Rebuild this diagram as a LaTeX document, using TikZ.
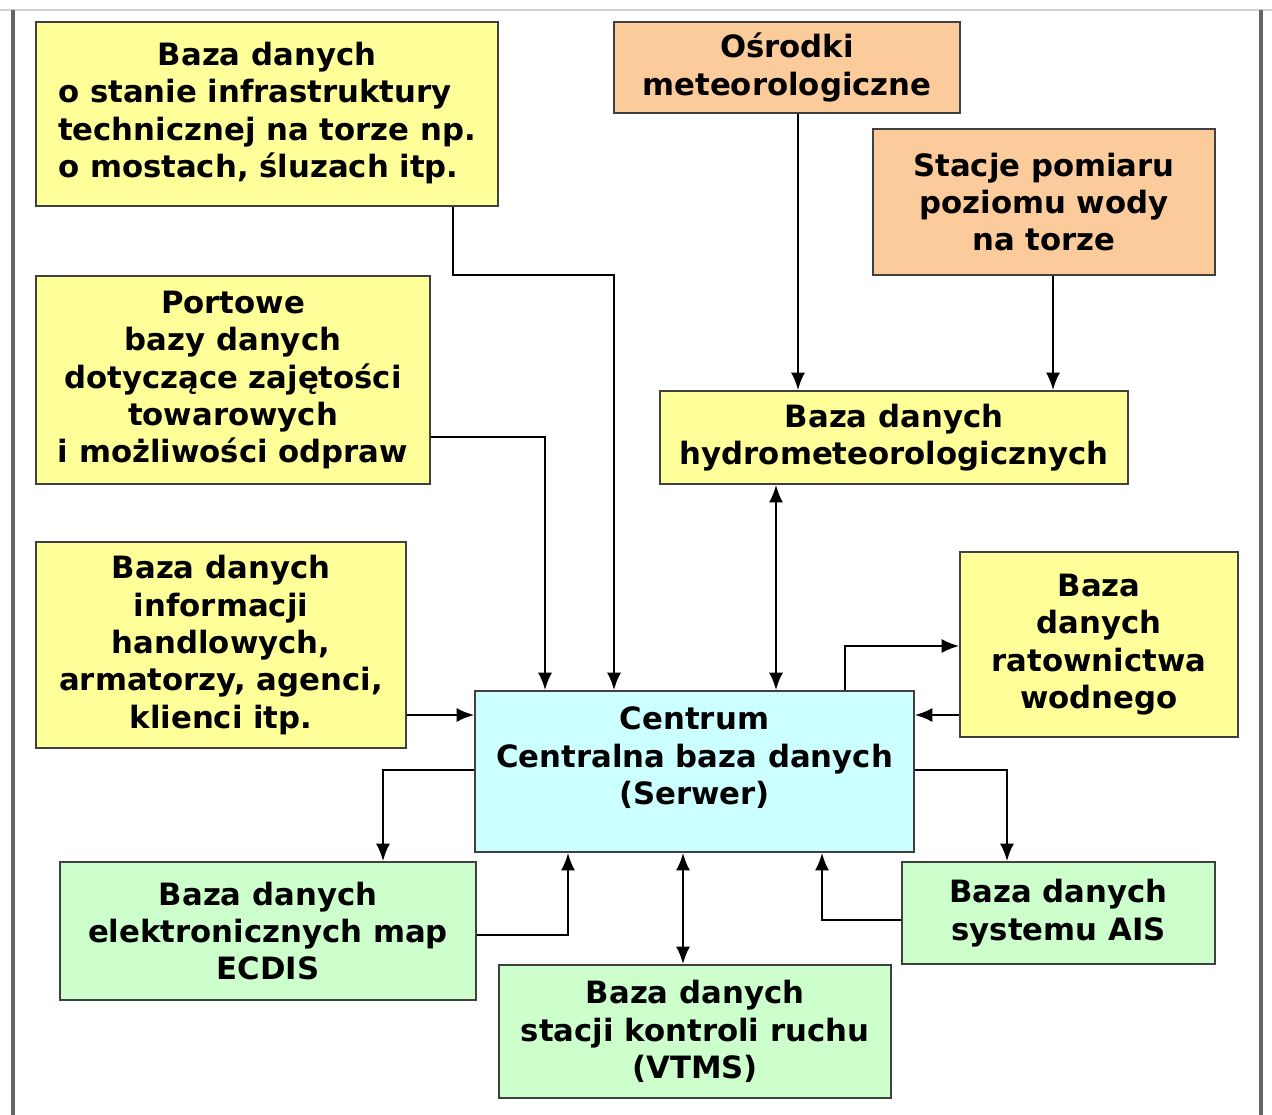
\documentclass[tikz,border=0pt]{standalone}
\usepackage{fontspec}
\setmainfont{DejaVu Sans}
\usetikzlibrary{arrows.meta}

\definecolor{zolty}{HTML}{FFFF99}
\definecolor{pomarancz}{HTML}{FCCB9B}
\definecolor{blekit}{HTML}{CCFFFF}
\definecolor{zielony}{HTML}{CCFFCC}

\begin{document}
\begin{tikzpicture}[
    x=0.02cm, y=-0.02cm,
    % Styl wspolny dla wszystkich prostokatow (baz danych)
    baza/.style={draw=black!75, line width=0.9pt, align=center, inner sep=0pt,
        font=\bfseries\fontsize{17.5}{21.3}\selectfont},
    % Strzalki laczace bloki
    strz/.style={-{Latex[length=10pt,width=8pt]}, line width=1.4pt},
    strz2/.style={{Latex[length=10pt,width=8pt]}-{Latex[length=10pt,width=8pt]}, line width=1.4pt}
]

    % ==========================================
    % 1. RAMKA I OBSZAR RYSUNKU
    % ==========================================
    \useasboundingbox (0,0) rectangle (1272,1115);
    \draw[black!18, line width=1.2pt] (0,10) -- (1272,10);
    \draw[black!60, line width=2pt] (13,10) -- (13,1115);
    \draw[black!60, line width=2pt] (1261,10) -- (1261,1115);

    % ==========================================
    % 2. BLOKI (Wspolrzedne srodkow)
    % ==========================================
    \node[baza, fill=zolty, minimum width=9.24cm, minimum height=3.68cm] (infra) at (267,114)
        {\begin{tabular}{@{}l@{}}\multicolumn{1}{@{}c@{}}{Baza danych}\\
         o stanie infrastruktury\\ technicznej na torze np.\\ o mostach, śluzach itp.\end{tabular}};
    \node[baza, fill=pomarancz, minimum width=6.92cm, minimum height=1.82cm] (osrod) at (787,67.5)
        {Ośrodki\\meteorologiczne};
    \node[baza, fill=pomarancz, minimum width=6.84cm, minimum height=2.92cm] (stacje) at (1044,202)
        {Stacje pomiaru\\poziomu wody\\na torze};
    \node[baza, fill=zolty, minimum width=7.88cm, minimum height=4.16cm] (port) at (233,380)
        {Portowe\\bazy danych\\dotyczące zajętości\\towarowych\\i możliwości odpraw};
    \node[baza, fill=zolty, minimum width=9.36cm, minimum height=1.86cm] (hydro) at (894,437.5)
        {Baza danych\\hydrometeorologicznych};
    \node[baza, fill=zolty, minimum width=7.40cm, minimum height=4.12cm] (handel) at (221,645)
        {Baza danych\\informacji\\handlowych,\\armatorzy, agenci,\\klienci itp.};
    \node[baza, fill=zolty, minimum width=5.56cm, minimum height=3.70cm] (ratown) at (1099,644.5)
        {Baza\\danych\\ratownictwa\\wodnego};
    \node[baza, fill=blekit, minimum width=8.78cm, minimum height=3.22cm] (centr) at (694.5,771.5)
        {Centrum\\Centralna baza danych\\(Serwer)\rule[-18pt]{0pt}{0pt}};
    \node[baza, fill=zielony, minimum width=8.32cm, minimum height=2.76cm] (ecdis) at (268,931)
        {Baza danych\\elektronicznych map\\ECDIS};
    \node[baza, fill=zielony, minimum width=7.84cm, minimum height=2.66cm] (vtms) at (695,1031.5)
        {Baza danych\\stacji kontroli ruchu\\(VTMS)};
    \node[baza, fill=zielony, minimum width=6.26cm, minimum height=2.04cm] (ais) at (1058.5,913)
        {Baza danych\\systemu AIS};

    % ==========================================
    % 3. POLACZENIA (punkty zalaman)
    % ==========================================
    \coordinate (z1) at (453,275);
    \coordinate (z2) at (614,275);
    \coordinate (z3) at (798,250);
    \coordinate (z4) at (1053,330);
    \coordinate (z5) at (545,437);
    \coordinate (z6) at (776,590);
    \coordinate (z7) at (440,715);
    \coordinate (z8) at (845,646);
    \coordinate (z9) at (937,715);
    \coordinate (z10) at (383,770);
    \coordinate (z11) at (568,935);
    \coordinate (z12) at (683,910);
    \coordinate (z13) at (822,920);
    \coordinate (z14) at (1007,770);

    % Dane wplywajace do centrum
    \draw[strz] (z1 |- infra.south) -- (z1) -- (z2) -- (z2 |- centr.north);
    \draw[strz] (z5 -| port.east) -- (z5) -- (z5 |- centr.north);
    \draw[strz] (z7 -| handel.east) -- (z7 -| centr.west);
    \draw[strz] (z9 -| ratown.west) -- (z9 -| centr.east);
    \draw[strz] (z11 -| ecdis.east) -- (z11) -- (z11 |- centr.south);
    \draw[strz] (z13 -| ais.west) -- (z13) -- (z13 |- centr.south);

    % Dane hydrometeorologiczne
    \draw[strz] (z3 |- osrod.south) -- (z3 |- hydro.north);
    \draw[strz] (z4 |- stacje.south) -- (z4 |- hydro.north);

    % Dane wychodzace z centrum
    \draw[strz] (z8 |- centr.north) -- (z8) -- (z8 -| ratown.west);
    \draw[strz] (z10 -| centr.west) -- (z10) -- (z10 |- ecdis.north);
    \draw[strz] (z14 -| centr.east) -- (z14) -- (z14 |- ais.north);

    % Wymiana dwukierunkowa
    \draw[strz2] (z6 |- hydro.south) -- (z6 |- centr.north);
    \draw[strz2] (z12 |- centr.south) -- (z12 |- vtms.north);

\end{tikzpicture}
\end{document}
